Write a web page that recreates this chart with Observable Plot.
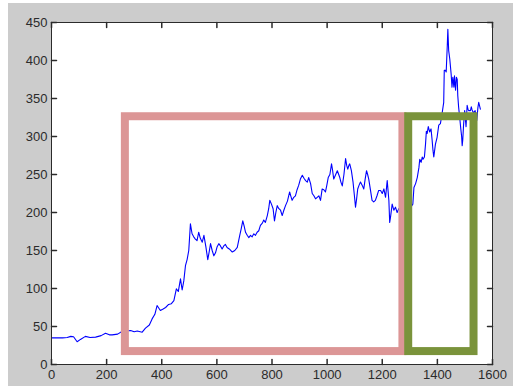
<!DOCTYPE html>
<html>
<head>
<meta charset="utf-8">
<script src="https://cdn.jsdelivr.net/npm/d3@7"></script>
<script src="https://cdn.jsdelivr.net/npm/@observablehq/plot@0.6"></script>
<style>
  html, body { margin: 0; padding: 0; background: #ffffff; }
  #chart { position: absolute; left: 8px; top: 3px; }
  #chart svg { display: block; }
</style>
</head>
<body>
<div id="chart"></div>
<script>
// Trading-day index and closing price
const days = [
  0, 20, 40, 57, 70, 80, 93, 105, 123, 140, 160, 180, 196, 210, 220, 240, 254, 270, 287, 300,
  311, 329, 341, 355, 365, 375, 383, 395, 405, 414, 425, 435, 444, 453, 460, 468, 474, 480, 486, 492,
  498, 504, 510, 516, 522, 528, 534, 540, 547, 553, 560, 567, 572, 577, 583, 589, 595, 601, 607, 613,
  619, 625, 631, 637, 645, 656, 665, 674, 683, 688, 694, 699, 704, 710, 716, 722, 728, 734, 740, 746,
  752, 758, 765, 770, 776, 783, 788, 792, 798, 804, 809, 814, 819, 825, 831, 837, 843, 849, 856, 864,
  868, 873, 879, 885, 891, 897, 903, 910, 916, 922, 928, 933, 940, 946, 952, 958, 964, 970, 976, 982,
  988, 994, 999, 1004, 1010, 1016, 1020, 1024, 1030, 1037, 1042, 1046, 1050, 1055, 1061, 1067, 1071, 1075, 1079, 1082,
  1088, 1094, 1099, 1103, 1107, 1111, 1116, 1121, 1127, 1133, 1138, 1143, 1147, 1151, 1157, 1163, 1169, 1175, 1181, 1187,
  1194, 1200, 1206, 1212, 1218, 1224, 1227, 1230, 1236, 1242, 1248, 1254, 1260, 1270, 1285, 1300, 1311, 1315, 1321, 1327,
  1333, 1336, 1341, 1345, 1348, 1353, 1357, 1360, 1363, 1367, 1372, 1377, 1381, 1384, 1387, 1393, 1399, 1405, 1411, 1417,
  1423, 1425, 1429, 1432, 1436, 1438, 1441, 1445, 1450, 1453, 1456, 1460, 1462, 1466, 1469, 1472, 1474, 1477, 1481, 1485,
  1488, 1490, 1492, 1495, 1499, 1504, 1508, 1511, 1514, 1520, 1523, 1526, 1531, 1537, 1543, 1547, 1550, 1556
];
const prices = [
  35, 35, 35, 35.5, 37, 36.5, 30, 33, 37, 35.5, 36, 38, 41, 39, 39, 40, 43, 44, 44.7, 43,
  44, 42.5, 47.8, 52, 60, 66, 77.6, 71, 73, 75, 79, 80, 84, 99.6, 96, 112.7, 98, 110, 130, 138,
  150, 185, 172, 168, 165, 163, 174, 166, 161, 170, 155, 138, 148, 159, 150, 143, 147, 155, 159, 156,
  152, 156, 158, 154, 152, 148, 150, 154, 170, 178, 189, 182, 174, 170, 167, 170, 168, 172, 170, 174,
  176, 183, 186, 190, 187, 196, 205, 216, 211, 205, 189, 200, 209, 205, 203, 196, 203, 209, 215, 227,
  222, 216, 220, 222, 230, 236, 244, 249, 245, 242, 240, 246, 238, 225, 222, 218, 220, 222, 216, 231,
  230, 227, 236, 246, 250, 264, 255, 244, 249, 255, 250, 246, 240, 235, 250, 271, 262, 257, 262, 264,
  255, 240, 222, 207, 218, 231, 236, 240, 236, 231, 244, 255, 250, 244, 230, 216, 214, 216, 222, 229,
  229, 225, 231, 220, 242, 216, 187, 194, 211, 203, 207, 200, 205, 208, 200, 205, 211, 233, 238, 246,
  259, 270, 266, 273, 270, 273, 290, 307, 304, 313, 306, 310, 295, 282, 273, 290, 299, 315, 317, 330,
  345, 387, 387, 385, 420, 441, 413, 402, 382, 365, 378, 365, 380, 361, 378, 375, 354, 339, 325, 310,
  300, 288, 295, 315, 334, 313, 341, 336, 334, 334, 339, 335, 331, 334, 321, 338, 345, 336
];

// Highlighted periods drawn as outlined boxes
const boxStart = [268, 1296];
const boxEnd = [1275, 1533];
const boxLow = [17, 17];
const boxHigh = [326, 326];

// Axis ticks
const xTicks = [0, 200, 400, 600, 800, 1000, 1200, 1400, 1600];
const yTicks = [0, 50, 100, 150, 200, 250, 300, 350, 400, 450];

const series = days.map((d, i) => ({day: d, price: prices[i]}));
const boxes = boxStart.map((s, i) => ({x1: s, x2: boxEnd[i], y1: boxLow[i], y2: boxHigh[i], k: i}));
const boxColors = ["#dc9696", "#7a933b"];

const axisColor = "#2b2b2b";

// plain straight tick (no arrowhead)
const tickShape = {draw(context, l) { context.moveTo(0, 0); context.lineTo(0, -l); }};

const chart = Plot.plot({
  width: 505,
  height: 383,
  marginLeft: 43,
  marginTop: 19,
  marginRight: 21,
  marginBottom: 22,
  style: {
    background: "#cccccc",
    fontFamily: "Arial, 'Liberation Sans', sans-serif",
    fontSize: "13px",
    color: axisColor
  },
  x: {domain: [0, 1600]},
  y: {domain: [0, 450]},
  marks: [
    Plot.frame({fill: "white", stroke: null}),
    Plot.line(series, {x: "day", y: "price", stroke: "#0000ff", strokeWidth: 1.1}),
    ...boxes.map(b => Plot.rect([b], {
      x1: "x1", x2: "x2", y1: "y1", y2: "y2",
      fill: "none", stroke: boxColors[b.k], strokeWidth: 8, strokeLinejoin: "miter"
    })),
    Plot.frame({stroke: axisColor, strokeWidth: 1}),
    // inward tick marks on all four sides
    Plot.vector(xTicks, {x: d => d, frameAnchor: "bottom", rotate: 0, length: 5, anchor: "start", shape: tickShape, stroke: axisColor}),
    Plot.vector(xTicks, {x: d => d, frameAnchor: "top", rotate: 180, length: 5, anchor: "start", shape: tickShape, stroke: axisColor}),
    Plot.vector(yTicks, {y: d => d, frameAnchor: "left", rotate: 90, length: 5, anchor: "start", shape: tickShape, stroke: axisColor}),
    Plot.vector(yTicks, {y: d => d, frameAnchor: "right", rotate: -90, length: 5, anchor: "start", shape: tickShape, stroke: axisColor}),
    Plot.axisX(xTicks, {tickSize: 0, tickPadding: 5, label: null, fill: axisColor, tickFormat: d => String(d)}),
    Plot.axisY(yTicks, {tickSize: 0, tickPadding: 4, label: null, fill: axisColor, tickFormat: d => String(d)})
  ]
});

document.getElementById("chart").appendChild(chart);
</script>
</body>
</html>
